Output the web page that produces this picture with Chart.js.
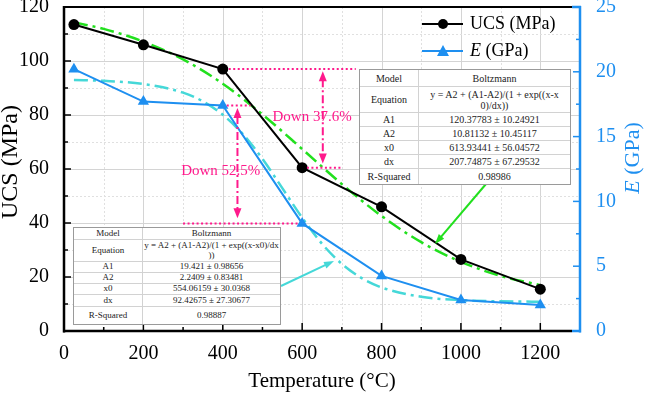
<!DOCTYPE html>
<html><head><meta charset="utf-8">
<script src="https://cdn.jsdelivr.net/npm/chart.js@4/dist/chart.umd.min.js"></script>
<style>
body{margin:0;background:#fff;}
#wrap{position:relative;width:646px;height:395px;overflow:hidden;background:#fff;}
canvas{position:absolute;left:0;top:0;}
table.fit{position:absolute;border-collapse:separate;border-spacing:0;background:#fff;font-family:'Liberation Serif',serif;color:#222;border:1px solid #9a9a9a;table-layout:fixed;}
table.fit td{border:0;border-right:1px solid #d2d2d2;border-bottom:1px solid #d2d2d2;text-align:center;padding:0;line-height:1.1;overflow:hidden;white-space:nowrap;box-sizing:border-box;}
table.fit tr td:last-child{border-right:0;}
table.fit tr:last-child td{border-bottom:0;}
</style></head>
<body>
<div id="wrap"><canvas id="c" width="646" height="395"></canvas></div>
<script>
// ---- data ----
const temps = [25, 200, 400, 600, 800, 1000, 1200];
const ucs = [113.5, 106, 97, 60.5, 46, 26.5, 15.5];
const eMod = [20.2, 17.7, 17.4, 8.3, 4.25, 2.4, 2.0];
const ucsFitT = [25, 100, 200, 300, 400, 500, 600, 700, 800, 900, 1000, 1100, 1200];
const ucsFit = [114.3, 111.9, 107.2, 100.6, 91.6, 80.2, 67.4, 54.4, 42.6, 32.9, 25.6, 20.4, 17.0];
const eFitT = [25, 100, 200, 300, 350, 400, 450, 500, 550, 600, 650, 700, 750, 800, 900, 1000, 1100, 1200];
const eFit = [19.37, 19.30, 19.06, 18.39, 17.72, 16.69, 15.21, 13.28, 11.02, 8.74, 6.73, 5.18, 4.08, 3.36, 2.64, 2.38, 2.29, 2.26];
const xTicks = [0, 200, 400, 600, 800, 1000, 1200];
const yTicks = [0, 20, 40, 60, 80, 100, 120];
const y2Ticks = [0, 5, 10, 15, 20, 25];
const ucsFitTable = [
  ['Model', 'Boltzmann'],
  ['Equation', 'y = A2 + (A1-A2)/(1 + exp((x-x|0)/dx))'],
  ['A1', '120.37783 ± 10.24921'],
  ['A2', '10.81132 ± 10.45117'],
  ['x0', '613.93441 ± 56.04572'],
  ['dx', '207.74875 ± 67.29532'],
  ['R-Squared', '0.98986']
];
const eFitTable = [
  ['Model', 'Boltzmann'],
  ['Equation', 'y = A2 + (A1-A2)/(1 + exp((x-x0)/dx|))'],
  ['A1', '19.421 ± 0.98656'],
  ['A2', '2.2409 ± 0.83481'],
  ['x0', '554.06159 ± 30.0368'],
  ['dx', '92.42675 ± 27.30677'],
  ['R-Squared', '0.98887']
];

// ---- styles ----
const FONT = '"Liberation Serif", serif';
const BLUE = '#1E8FF0';
const GREEN = '#22E01E';
const CYAN = '#45D8D8';
const PINK = '#FF1A8C';

function buildTable(rows, opt) {
  const t = document.createElement('table');
  t.className = 'fit';
  t.style.left = opt.left + 'px'; t.style.top = opt.top + 'px';
  t.style.width = opt.width + 'px'; t.style.fontSize = opt.font + 'px';
  rows.forEach((r, i) => {
    const tr = document.createElement('tr');
    r.forEach((c, j) => {
      const td = document.createElement('td');
      td.style.height = opt.heights[i] + 'px';
      if (j === 0) td.style.width = opt.col1 + 'px';
      c.split('|').forEach((p, k) => { if (k) td.appendChild(document.createElement('br')); td.appendChild(document.createTextNode(p)); });
      tr.appendChild(td);
    });
    t.appendChild(tr);
  });
  document.getElementById('wrap').appendChild(t);
}
buildTable(ucsFitTable, {left: 359, top: 69, width: 212, col1: 59, font: 10, heights: [17, 26, 14, 14, 14, 14, 15]});
buildTable(eFitTable, {left: 73, top: 227, width: 208, col1: 69, font: 9, heights: [12, 22, 11, 11, 11, 12, 17]});

function seg(ctx, x1, y1, x2, y2) { ctx.beginPath(); ctx.moveTo(x1, y1); ctx.lineTo(x2, y2); ctx.stroke(); }
function head(ctx, x1, y1, x2, y2, len, w, color) {
  const ang = Math.atan2(y2 - y1, x2 - x1);
  ctx.save(); ctx.translate(x2, y2); ctx.rotate(ang);
  ctx.beginPath(); ctx.moveTo(0, 0); ctx.lineTo(-len, -w / 2); ctx.lineTo(-len, w / 2); ctx.closePath();
  ctx.fillStyle = color; ctx.fill(); ctx.restore();
}
function arrow(ctx, x1, y1, x2, y2, color, lw) {
  const d = Math.hypot(x2 - x1, y2 - y1), len = 10;
  const bx = x2 - (x2 - x1) / d * len * 0.8, by = y2 - (y2 - y1) / d * len * 0.8;
  ctx.save(); ctx.strokeStyle = color; ctx.lineWidth = lw; ctx.setLineDash([]);
  seg(ctx, x1, y1, bx, by); ctx.restore();
  head(ctx, x1, y1, x2, y2, len, 7, color);
}
function richText(ctx, parts, x, y, size, color, align) {
  let w = 0;
  parts.forEach(p => { ctx.font = (p.i ? 'italic ' : '') + size + 'px ' + FONT; p.w = ctx.measureText(p.t).width; w += p.w; });
  let cx = align === 'center' ? x - w / 2 : x;
  ctx.fillStyle = color; ctx.textBaseline = 'middle'; ctx.textAlign = 'left';
  parts.forEach(p => { ctx.font = (p.i ? 'italic ' : '') + size + 'px ' + FONT; ctx.fillText(p.t, cx, y); cx += p.w; });
}

const framePlugin = {
  id: 'frame',
  beforeDatasetsDraw(chart) {
    const {ctx, chartArea: a, scales: {x, y}} = chart;
    ctx.save(); ctx.lineWidth = 1;
    for (let v = 100; v < 1300; v += 100) {
      const px = Math.round(x.getPixelForValue(v)) + 0.5, major = v % 200 === 0;
      ctx.strokeStyle = major ? '#d4d4d4' : '#e0e0e0'; ctx.setLineDash(major ? [] : [2, 2]);
      seg(ctx, px, a.top, px, a.bottom);
    }
    for (let v = 10; v < 120; v += 10) {
      const py = Math.round(y.getPixelForValue(v)) + 0.5, major = v % 20 === 0;
      ctx.strokeStyle = major ? '#d4d4d4' : '#e0e0e0'; ctx.setLineDash(major ? [] : [2, 2]);
      seg(ctx, a.left, py, a.right, py);
    }
    ctx.restore();
  },
  afterDatasetsDraw(chart) {
    const {ctx, scales: {x, y, y2}} = chart;
    ctx.save();
    ctx.strokeStyle = PINK; ctx.lineWidth = 2; ctx.setLineDash([2, 2.5]);
    const hl = (sc, v, a, b) => { const py = sc.getPixelForValue(v); seg(ctx, x.getPixelForValue(a), py, x.getPixelForValue(b), py); };
    hl(y, ucs[2], 415, 735);
    hl(y, ucs[3], 612, 700);
    hl(y2, eMod[2], 410, 470);
    hl(y2, eMod[3], 300, 590);
    const va = (xv, top, bot) => {
      const px = x.getPixelForValue(xv);
      ctx.save(); ctx.strokeStyle = PINK; ctx.lineWidth = 2; ctx.setLineDash([8, 3, 2, 3]);
      seg(ctx, px, top + 8, px, bot - 8); ctx.restore();
      head(ctx, px, top + 20, px, top, 10, 8, PINK);
      head(ctx, px, bot - 20, px, bot, 10, 8, PINK);
    };
    va(652, y.getPixelForValue(96.2), y.getPixelForValue(62));
    va(437, y2.getPixelForValue(17.2), y2.getPixelForValue(8.7));
    ctx.fillStyle = PINK; ctx.font = '15px ' + FONT; ctx.textAlign = 'center'; ctx.textBaseline = 'middle';
    ctx.fillText('Down 37.6%', x.getPixelForValue(625), y.getPixelForValue(79.3));
    ctx.fillText('Down 52.5%', x.getPixelForValue(395), y.getPixelForValue(59.3));
    ctx.restore();
    arrow(ctx, 486, 184, 435, 244, GREEN, 2);
    arrow(ctx, 281, 286, 334, 261, CYAN, 2);
  },
  afterDraw(chart) {
    const {ctx, chartArea: a, scales: {x, y, y2}} = chart;
    ctx.save(); ctx.setLineDash([]);
    ctx.lineWidth = 1.5; ctx.strokeStyle = '#000';
    for (let v = 10; v < 120; v += 10) { const py = y.getPixelForValue(v); seg(ctx, a.left, py, a.left + (v % 20 ? 4 : 7), py); }
    for (let v = 100; v < 1300; v += 100) { const px = x.getPixelForValue(v); seg(ctx, px, a.bottom, px, a.bottom - (v % 200 ? 4 : 8)); }
    ctx.strokeStyle = BLUE;
    for (let v = 2.5; v < 25; v += 2.5) { const py = y2.getPixelForValue(v); seg(ctx, a.right, py, a.right - (v % 5 ? 4 : 7), py); }
    ctx.lineWidth = 2.5; ctx.strokeStyle = '#000';
    seg(ctx, a.left, a.top - 1, a.left, a.bottom + 1.5);
    seg(ctx, a.left - 1, a.bottom, 572, a.bottom);
    ctx.lineWidth = 2; seg(ctx, a.left, a.top, 572, a.top);
    ctx.strokeStyle = BLUE; ctx.lineWidth = 2.5;
    seg(ctx, 572, a.bottom, a.right + 1, a.bottom);
    seg(ctx, 572, a.top, a.right + 1, a.top);
    seg(ctx, a.right, a.top - 1, a.right, a.bottom + 1.5);
    ctx.lineWidth = 2; ctx.strokeStyle = '#000'; seg(ctx, 422, 24, 463, 24);
    ctx.fillStyle = '#000'; ctx.beginPath(); ctx.arc(443, 24, 5, 0, Math.PI * 2); ctx.fill();
    richText(ctx, [{t: 'UCS (MPa)'}], 470, 24, 18, '#000', 'left');
    ctx.strokeStyle = BLUE; seg(ctx, 422, 51, 463, 51);
    ctx.fillStyle = BLUE; ctx.beginPath(); ctx.moveTo(443, 45); ctx.lineTo(449, 56); ctx.lineTo(437, 56); ctx.closePath(); ctx.fill();
    richText(ctx, [{t: 'E', i: true}, {t: ' (GPa)'}], 470, 51, 18, '#000', 'left');
    ctx.save(); ctx.translate(11, 162); ctx.rotate(-Math.PI / 2);
    richText(ctx, [{t: 'UCS (MPa)'}], 0, 0, 24, '#000', 'center'); ctx.restore();
    ctx.save(); ctx.translate(633, 158); ctx.rotate(-Math.PI / 2);
    richText(ctx, [{t: 'E', i: true}, {t: ' (GPa)'}], 0, 0, 22, BLUE, 'center'); ctx.restore();
    richText(ctx, [{t: 'Temperature (°C)'}], 322, 381, 21, '#000', 'center');
    ctx.restore();
  }
};

const pts = (xs, ys) => xs.map((v, i) => ({x: v, y: ys[i]}));
function draw() {
  const tickFont = {family: FONT, size: 20};
  const plain = v => String(v);
  new Chart(document.getElementById('c'), {
    type: 'line',
    data: {datasets: [
      {label: 'UCS (MPa)', data: pts(temps, ucs), yAxisID: 'y', borderColor: '#000', backgroundColor: '#000', borderWidth: 2, pointStyle: 'circle', pointRadius: 5.5, pointBorderWidth: 0},
      {label: 'E (GPa)', data: pts(temps, eMod), yAxisID: 'y2', borderColor: BLUE, backgroundColor: BLUE, borderWidth: 2, pointStyle: 'triangle', pointRadius: 6.5, pointBorderWidth: 0},
      {label: 'UCS fit', data: pts(ucsFitT, ucsFit), yAxisID: 'y', borderColor: GREEN, borderWidth: 2.5, borderDash: [14, 5, 3, 5], pointRadius: 0, cubicInterpolationMode: 'monotone'},
      {label: 'E fit', data: pts(eFitT, eFit), yAxisID: 'y2', borderColor: CYAN, borderWidth: 2.5, borderDash: [14, 5, 3, 5], pointRadius: 0, cubicInterpolationMode: 'monotone'}
    ]},
    options: {
      responsive: false, animation: false, events: [],
      layout: {padding: {top: 7, left: 0, right: 0, bottom: 0}},
      plugins: {legend: {display: false}, tooltip: {enabled: false}},
      scales: {
        x: {type: 'linear', min: 0, max: 1300, grid: {display: false}, border: {display: false},
          afterBuildTicks: s => { s.ticks = xTicks.map(v => ({value: v})); },
          ticks: {font: tickFont, color: '#000', padding: 3, maxRotation: 0, autoSkip: false, callback: plain},
          afterFit: s => { s.height = 64; s.paddingLeft = 0; s.paddingRight = 0; }},
        y: {type: 'linear', position: 'left', min: 0, max: 120, grid: {display: false}, border: {display: false},
          afterBuildTicks: s => { s.ticks = yTicks.map(v => ({value: v})); },
          ticks: {font: tickFont, color: '#000', padding: 7, autoSkip: false, callback: plain},
          afterFit: s => { s.width = 64; s.paddingTop = 0; s.paddingBottom = 0; }},
        y2: {type: 'linear', position: 'right', min: 0, max: 25, grid: {display: false}, border: {display: false},
          afterBuildTicks: s => { s.ticks = y2Ticks.map(v => ({value: v})); },
          ticks: {font: tickFont, color: BLUE, padding: 8, autoSkip: false, callback: plain},
          afterFit: s => { s.width = 66; s.paddingTop = 0; s.paddingBottom = 0; }}
      }
    },
    plugins: [framePlugin]
  });
}
Promise.all([
  document.fonts.load('20px "Liberation Serif"'),
  document.fonts.load('italic 20px "Liberation Serif"')
]).then(draw, draw);
</script>
</body></html>
